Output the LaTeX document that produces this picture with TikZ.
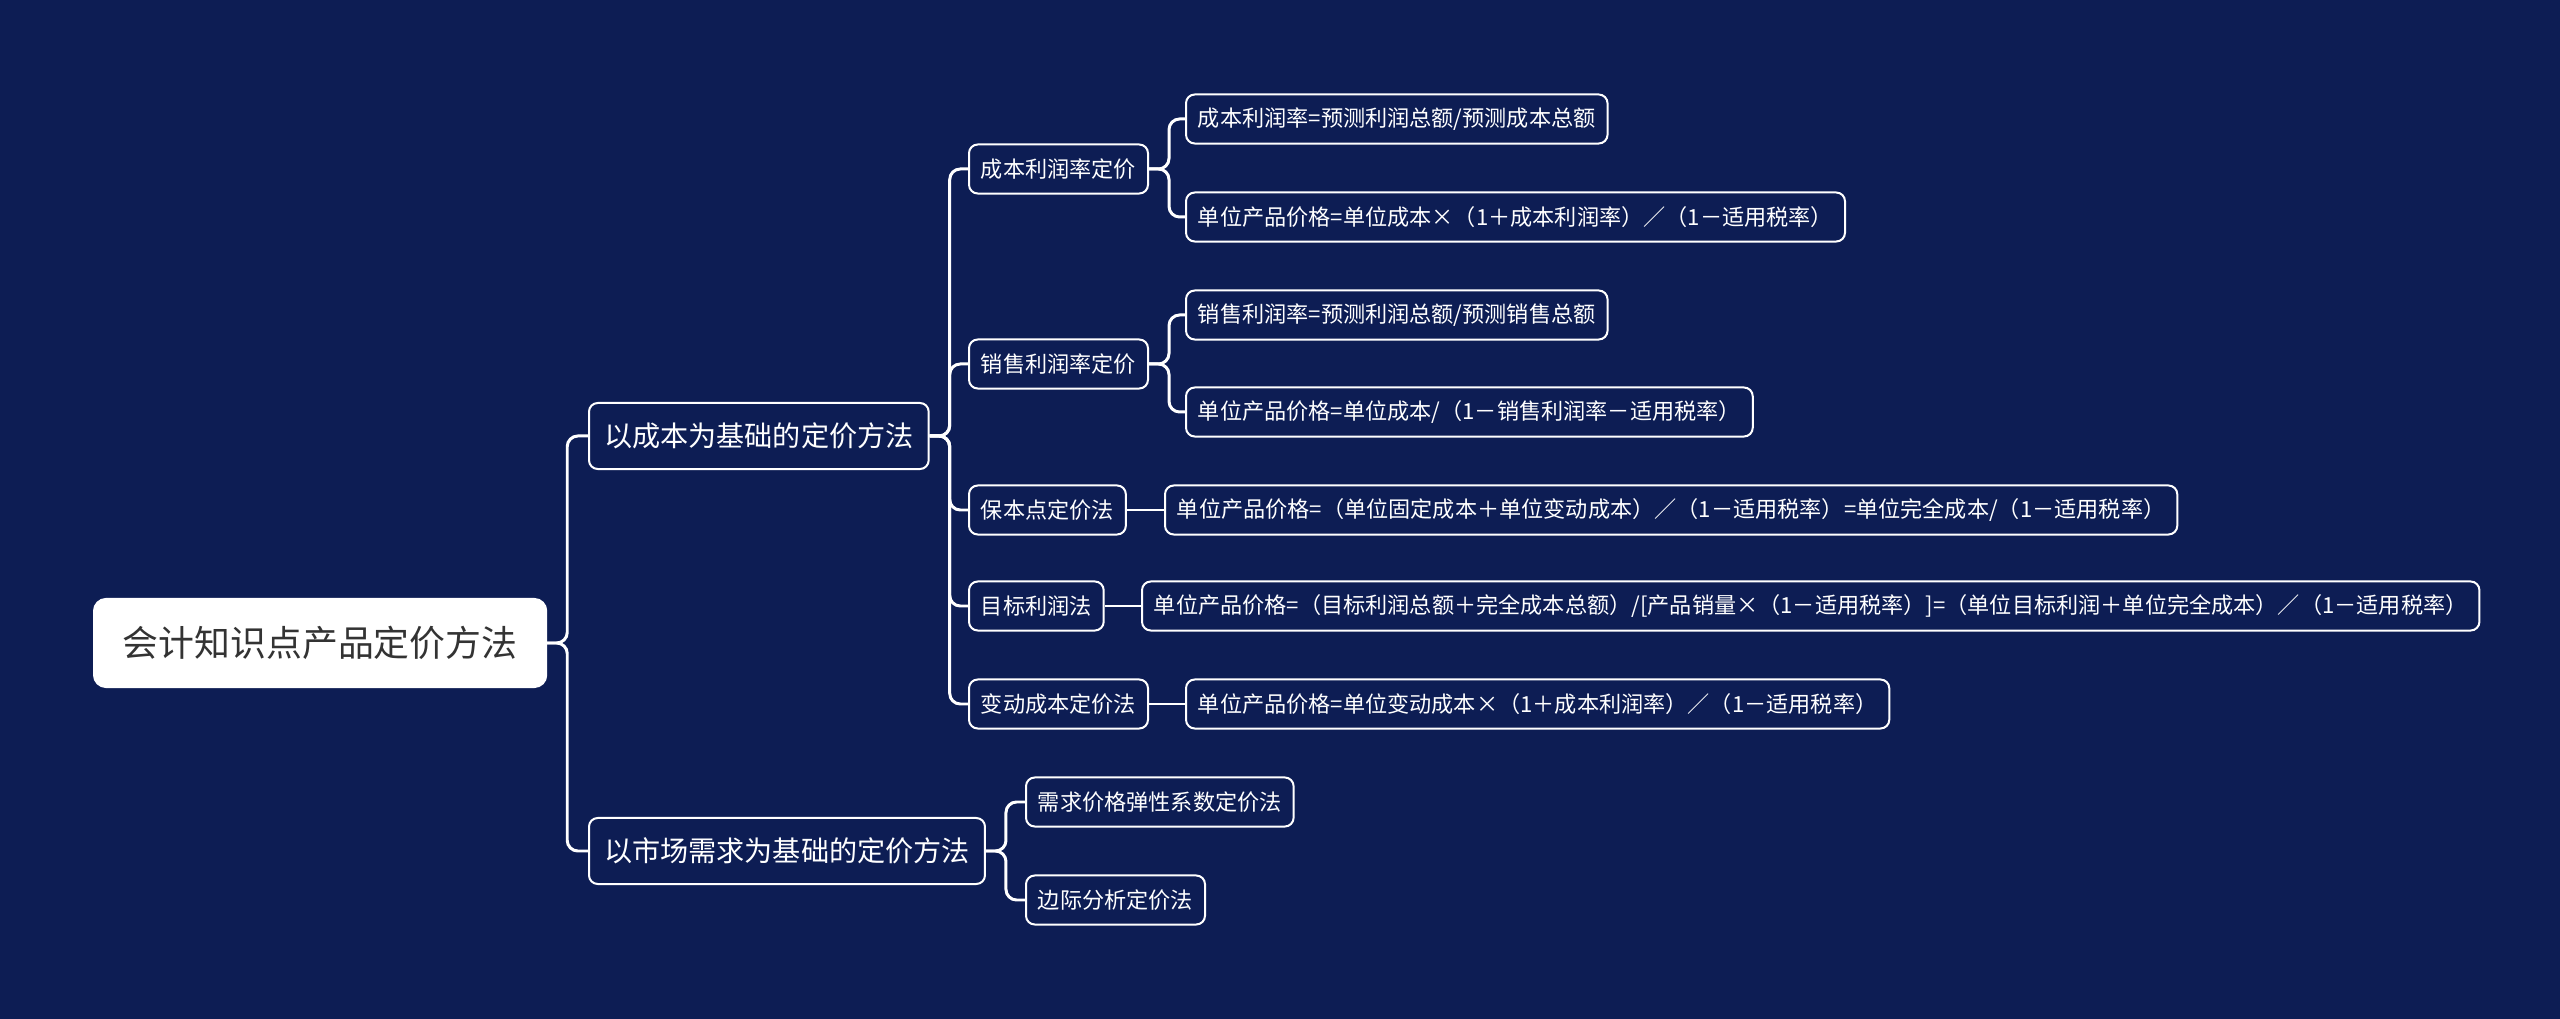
\documentclass[tikz,border=0pt]{standalone}
\usepackage{fontspec}
\setmainfont{Noto Sans CJK SC}
\usetikzlibrary{calc}

\begin{document}
\begin{tikzpicture}[
    x=0.01cm, y=-0.01cm,
    every node/.style={font=\rmfamily},
    box/.style={draw=white, line width=0.57pt, rounded corners=2.5pt, fill=bg,
        text=white, anchor=west, inner xsep=3.4pt, inner ysep=0pt,
        minimum height=0.49cm, font=\fontsize{6.3pt}{7.5pt}\selectfont},
    midbox/.style={box, inner xsep=4.3pt, minimum height=0.66cm,
        font=\fontsize{8pt}{9.5pt}\selectfont},
    rootbox/.style={box, fill=white, text=ink, rounded corners=3.4pt,
        inner xsep=8.2pt, minimum height=0.88cm,
        font=\fontsize{10.2pt}{12pt}\selectfont},
    branch/.style={draw=white, line width=0.85pt, rounded corners=3pt},
]

\definecolor{bg}{HTML}{0D1D54}    % page and box fill
\definecolor{ink}{HTML}{333333}   % text of the root

\useasboundingbox (0,0) rectangle (2560,1019);
\fill[bg] (0,0) rectangle (2560,1019);

% ================================================================
%   root on the left, two kinds of pricing, then the methods and
%   their formulas; all x/y below are in pixels of the 2560x1019 page
% ================================================================

% ---------------------------------------------------------------- root
\node[rootbox] (root) at (93, 643) {会计知识点产品定价方法};

% ---------------------------------------------------------------- first level
\node[midbox] (cost)   at (588, 436) {以成本为基础的定价方法};
\node[midbox] (market) at (588, 851) {以市场需求为基础的定价方法};

% ---------------------------------------------------------------- cost based
\foreach \name/\y/\txt in {cpr/169/成本利润率定价, spr/364/销售利润率定价,
        bep/510/保本点定价法, tgt/606/目标利润法, var/704/变动成本定价法} {
    \node[box] (\name) at (968, \y) {\txt};
}

\node[box] (cpr1) at (1185, 119) {成本利润率=预测利润总额/预测成本总额};
\node[box] (cpr2) at (1185, 217)
    {单位产品价格=单位成本×（1＋成本利润率）／（1－适用税率）};
\node[box] (spr1) at (1185, 315) {销售利润率=预测利润总额/预测销售总额};
\node[box] (spr2) at (1185, 412)
    {单位产品价格=单位成本/（1－销售利润率－适用税率）};
\node[box] (bep1) at (1164, 510)
    {单位产品价格=（单位固定成本＋单位变动成本）／（1－适用税率）=单位完全成本/（1－适用税率）};
\node[box] (tgt1) at (1141, 606)
    {单位产品价格=（目标利润总额＋完全成本总额）/[产品销量×（1－适用税率）]=（单位目标利润＋单位完全成本）／（1－适用税率）};
\node[box] (var1) at (1185, 704)
    {单位产品价格=单位变动成本×（1＋成本利润率）／（1－适用税率）};

% ---------------------------------------------------------------- market based
\node[box] (ela) at (1025, 802) {需求价格弹性系数定价法};
\node[box] (mar) at (1025, 900) {边际分析定价法};

% ---------------------------------------------------------------- branches
\foreach \kid in {cost, market}
    \draw[branch] (root.east) -- ++(20,0) |- (\kid.west);
\foreach \kid in {cpr, spr, bep, tgt, var}
    \draw[branch] (cost.east) -- ++(20,0) |- (\kid.west);
\foreach \up/\kid in {cpr/cpr1, cpr/cpr2, spr/spr1, spr/spr2}
    \draw[branch] (\up.east) -- ++(20,0) |- (\kid.west);
\foreach \up/\kid in {bep/bep1, tgt/tgt1, var/var1}
    \draw[branch] (\up.east) -- (\kid.west);
\foreach \kid in {ela, mar}
    \draw[branch] (market.east) -- ++(20,0) |- (\kid.west);

\end{tikzpicture}
\end{document}
